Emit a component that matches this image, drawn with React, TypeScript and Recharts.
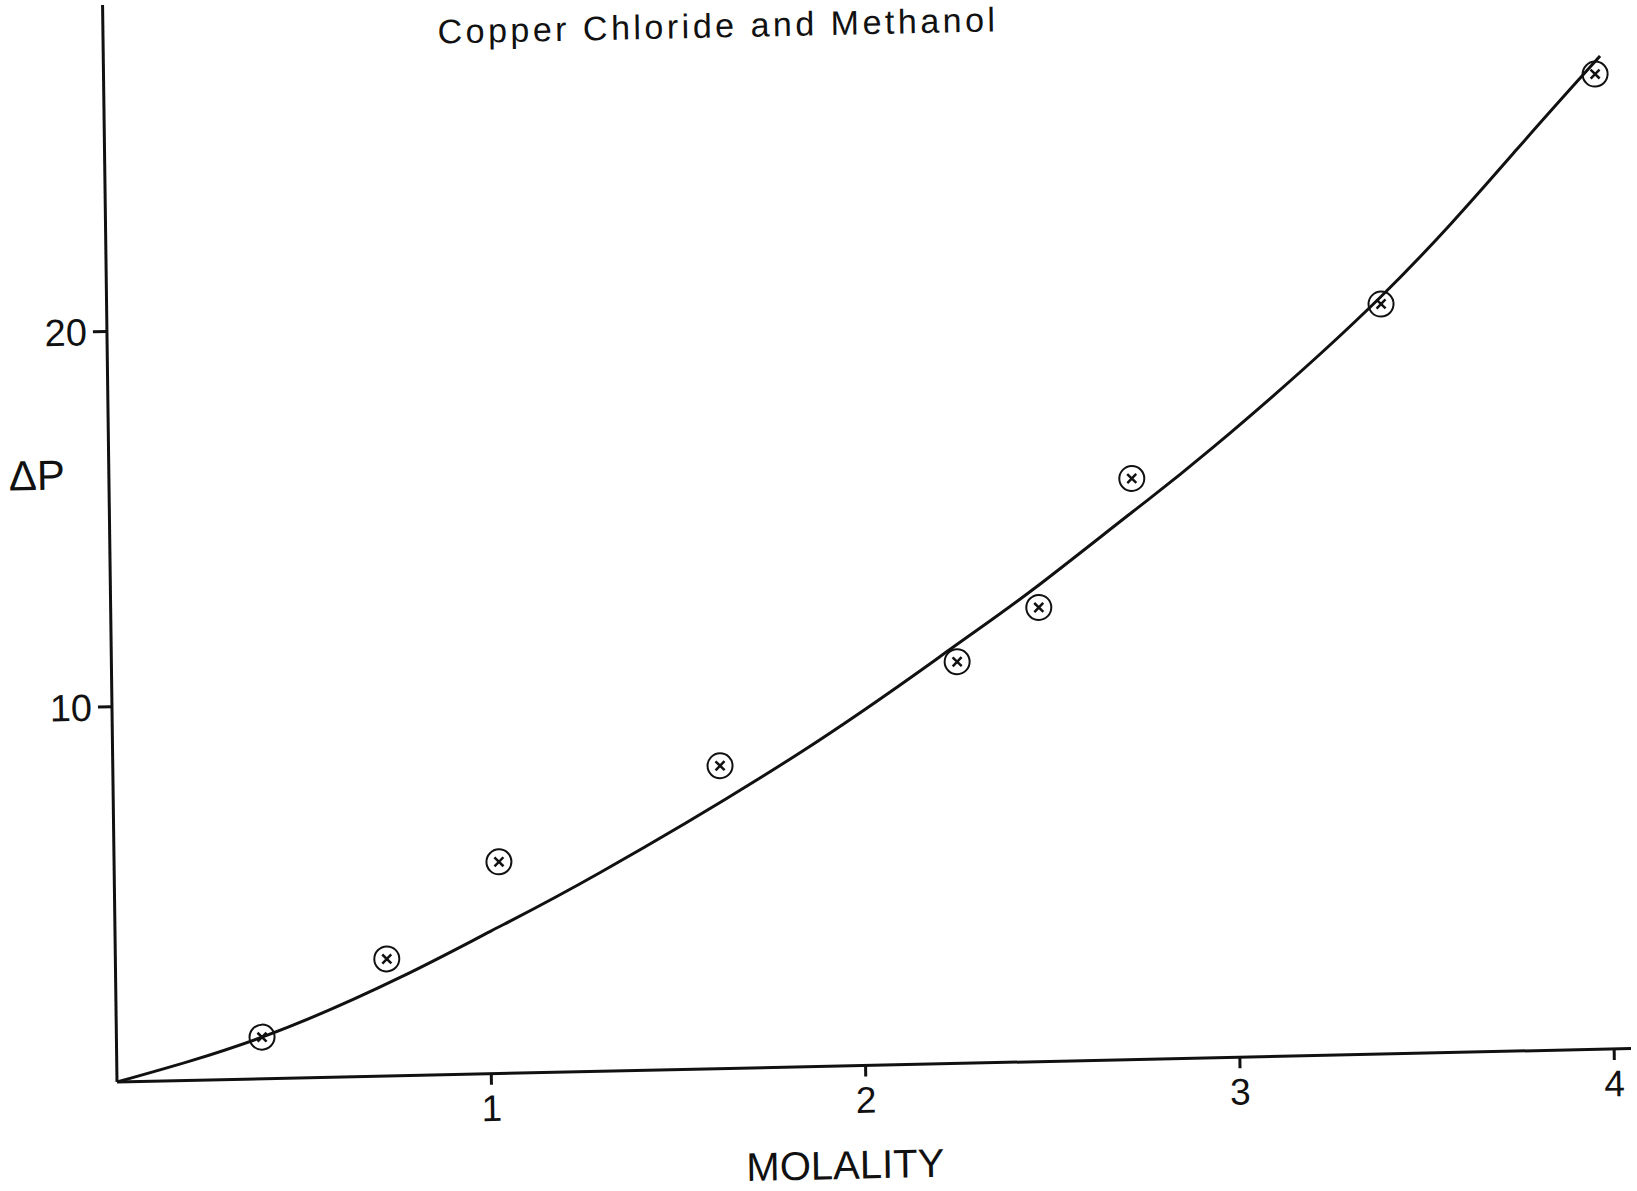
import { ComposedChart, Line, Scatter, XAxis, YAxis } from 'recharts'

// smooth curve drawn through the data
const curveMolality = [0, 0.389, 0.76, 1.004, 1.297, 1.836, 2.24, 2.464, 2.734, 2.95, 3.401, 3.773, 3.998]
const curveDeltaP = [0, 1.11, 2.62, 3.8, 5.29, 8.37, 11.03, 12.58, 14.6, 16.26, 20.15, 24.03, 26.46]

// measured points
const pointMolality = [0.389, 0.725, 1.028, 1.622, 2.259, 2.479, 2.732, 3.404, 3.984]
const pointDeltaP = [1.11, 3.12, 5.64, 8.07, 10.7, 12.1, 15.48, 19.98, 25.98]

const xTicks = [1, 2, 3, 4]
const yTicks = [10, 20]

const curve = curveMolality.map((m, i) => ({ m, dp: curveDeltaP[i] }))
const points = pointMolality.map((m, i) => ({ m, dp: pointDeltaP[i] }))

const ink = '#111'
const font = '"Liberation Sans", Arial, sans-serif'

function CircleCross(props: any) {
  const { cx, cy } = props
  if (cx == null || cy == null) return null
  return (
    <g>
      <circle cx={cx} cy={cy} r={12.5} fill='none' stroke={ink} strokeWidth={2} />
      <path
        d={`M${cx - 4.5},${cy - 4.5}L${cx + 4.5},${cy + 4.5}M${cx + 4.5},${cy - 4.5}L${cx - 4.5},${cy + 4.5}`}
        stroke={ink}
        strokeWidth={2.5}
      />
    </g>
  )
}

export default function App() {
  return (
    <div style={{ position: 'absolute', left: 0, top: 0, width: 1637, height: 1191, overflow: 'hidden', background: '#fff' }}>
      {/* the scanned page is slightly skewed, so the whole drawing is too */}
      <div
        style={{
          position: 'absolute',
          left: 0,
          top: 0,
          transform: 'matrix(1, -0.0221, 0.0134, 1, 0, 0)',
          transformOrigin: '117px 1082px',
        }}
      >
        <svg width={1637} height={90} style={{ position: 'absolute', left: 0, top: 0 }}>
          <text
            x={732}
            y={51}
            textAnchor='middle'
            fontFamily={font}
            fontSize={34}
            letterSpacing={3.5}
            fill={ink}
          >
            Copper Chloride and Methanol
          </text>
        </svg>
        <ComposedChart width={1637} height={1215} margin={{ top: 5, right: 6, bottom: 17, left: 0 }}>
          <XAxis
            type='number'
            dataKey='m'
            domain={[0, 4.045]}
            ticks={xTicks}
            allowDataOverflow
            height={116}
            stroke={ink}
            strokeWidth={3}
            tickSize={11}
            tickMargin={10}
            tick={{ fill: ink, fontSize: 37, fontFamily: font }}
            label={{ value: 'MOLALITY', position: 'insideBottom', offset: 3, dx: -30, fill: ink, fontSize: 40, fontFamily: font }}
          />
          <YAxis
            type='number'
            dataKey='dp'
            domain={[0, 28.7]}
            ticks={yTicks}
            allowDataOverflow
            width={117}
            stroke={ink}
            strokeWidth={3}
            tickSize={14}
            tickMargin={6}
            tick={{ fill: ink, fontSize: 38, fontFamily: font }}
            label={{ value: 'ΔP', position: 'insideLeft', offset: 17, dy: -70, fill: ink, fontSize: 42, fontFamily: font }}
          />
          <Line
            data={curve}
            dataKey='dp'
            type='natural'
            stroke={ink}
            strokeWidth={3}
            dot={false}
            activeDot={false}
            isAnimationActive={false}
          />
          <Scatter data={points} dataKey='dp' shape={CircleCross} isAnimationActive={false} />
        </ComposedChart>
      </div>
    </div>
  )
}
